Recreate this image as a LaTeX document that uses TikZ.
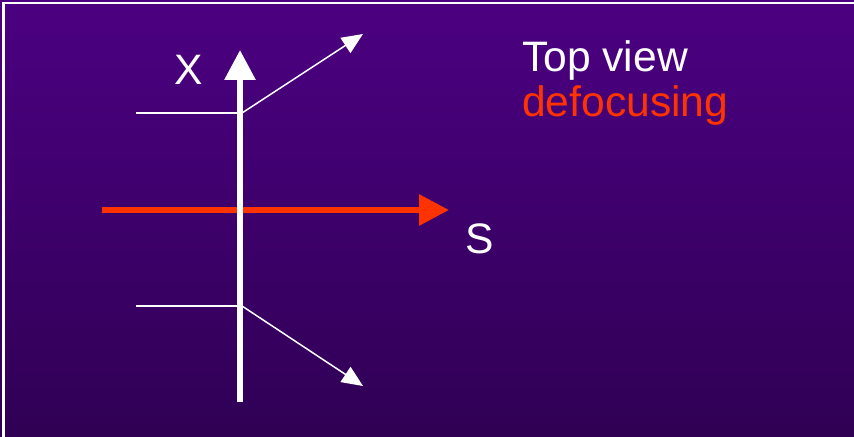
\documentclass[tikz,border=0pt]{standalone}
\usepackage{fontspec}
\setmainfont{Liberation Sans}
\usetikzlibrary{arrows.meta}
\definecolor{bgtop}{RGB}{76,0,130}
\definecolor{bgbot}{RGB}{47,0,84}
\definecolor{beamred}{RGB}{255,51,0}
\begin{document}
\begin{tikzpicture}[x=1bp,y=-1bp,
  bigfont/.style={font=\fontsize{42.6bp}{45bp}\selectfont, inner sep=0pt, text=white},
  axisarrow/.style={draw=white, line width=6bp, -{Triangle[length=30bp,width=30bp]}},
  beamarrow/.style={draw=beamred, line width=6bp, -{Triangle[length=30bp,width=30bp]}},
  thinline/.style={draw=white, line width=1.5bp},
  raysarrow/.style={draw=white, line width=1.5bp, -{Triangle[length=21bp,width=18bp]}}]
\useasboundingbox (0,0) rectangle (854,437);
\shade[top color=bgtop, bottom color=bgbot] (-3,-3) rectangle (857,440);
\draw[white, line width=2bp] (3.5,440) -- (3.5,3.5) -- (857,3.5);
% coordinates
\coordinate (axbot) at (240,402);
\coordinate (axtop) at (240,50);
\coordinate (beamL) at (102,210);
\coordinate (beamR) at (449,210);
\coordinate (upL) at (136,113);
\coordinate (upJ) at (242,113);
\coordinate (upT) at (363,34);
\coordinate (loL) at (136,306);
\coordinate (loJ) at (242,306);
\coordinate (loT) at (363,386);
% lines
\draw[thinline] (upL) -- (upJ);
\draw[thinline] (loL) -- (loJ);
\draw[raysarrow] (upJ) -- (upT);
\draw[raysarrow] (loJ) -- (loT);
\draw[beamarrow] (beamL) -- (beamR);
\draw[axisarrow] (axbot) -- (axtop);
% labels
\node[bigfont, anchor=base west] (xlab) at (174,85) {X};
\node[bigfont, anchor=base west] (slab) at (465,254) {S};
\node[bigfont, anchor=base west] (top) at (522,72) {Top view};
\node[bigfont, anchor=base west, text=beamred] (defoc) at (522,117) {defocusing};
\end{tikzpicture}
\end{document}
